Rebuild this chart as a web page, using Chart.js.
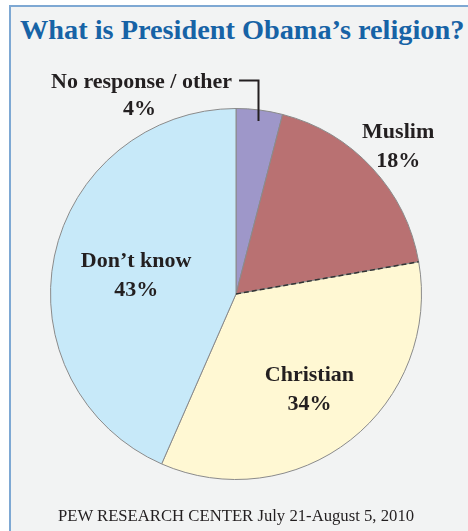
<!DOCTYPE html>
<html>
<head>
<meta charset="utf-8">
<script src="https://cdn.jsdelivr.net/npm/chart.js@4"></script>
<style>
  html, body { margin: 0; padding: 0; background: #fff; }
  #wrap { position: relative; width: 468px; height: 531px; overflow: hidden; }
  #frame {
    position: absolute; left: 9px; top: 5px; width: 470px; height: 540px;
    background: #f2f3f3; border-left: 2px solid #7ea8d3; border-top: 2px solid #7ea8d3;
  }
  #title {
    position: absolute; left: 20px; top: 14px; white-space: nowrap;
    font: bold 28.3px "Liberation Serif", serif; color: #1763a6;
  }
  #source {
    position: absolute; left: 0; width: 472px; top: 506px; text-align: center; white-space: nowrap;
    font: 16.7px "Liberation Serif", serif; color: #231f20;
  }
  #chart { position: absolute; left: 0; top: 0; }
</style>
</head>
<body>
<div id="wrap">
  <div id="frame"></div>
  <div id="title">What is President Obama’s religion?</div>
  <canvas id="chart" width="468" height="531"></canvas>
  <div id="source">PEW RESEARCH CENTER July 21-August 5, 2010</div>
</div>
<script>
// respuestas, en el orden del reloj desde arriba
const labels = ["No response / other", "Muslim", "Christian", "Don’t know"];
const values = [4, 18, 34, 43];
const colors = ["#9e97c9", "#b97172", "#fff8d3", "#c7e9f9"];

// donde va cada etiqueta (fraccion del radio, sobre el angulo medio de su porcion)
const labelPos = [null, 1.19, 0.64, 0.55];

const pieLabels = {
  id: "pieLabels",
  afterDatasetsDraw(chart) {
    const ctx = chart.ctx;
    const arcs = chart.getDatasetMeta(0).data;
    ctx.save();

    // linea punteada entre Muslim y Christian
    const c = arcs[2].getProps(["x", "y", "startAngle", "outerRadius"], true);
    ctx.strokeStyle = "#333";
    ctx.lineWidth = 1.5;
    ctx.setLineDash([5, 3]);
    ctx.beginPath();
    ctx.moveTo(c.x, c.y);
    ctx.lineTo(c.x + c.outerRadius * Math.cos(c.startAngle), c.y + c.outerRadius * Math.sin(c.startAngle));
    ctx.stroke();
    ctx.setLineDash([]);

    ctx.font = "bold 22px 'Liberation Serif', serif";
    ctx.fillStyle = "#231f20";
    ctx.textAlign = "center";
    ctx.textBaseline = "alphabetic";

    arcs.forEach((arc, i) => {
      const { x, y, startAngle, endAngle, outerRadius } = arc.getProps(
        ["x", "y", "startAngle", "endAngle", "outerRadius"], true);
      const mid = (startAngle + endAngle) / 2;
      const pct = values[i] + "%";

      if (labelPos[i] === null) {
        // etiqueta de afuera con linea guia
        const ax = x + outerRadius * 0.94 * Math.cos(mid);
        const ay = y + outerRadius * 0.94 * Math.sin(mid);
        const topY = y - outerRadius - 28;
        const endX = ax - 19;
        ctx.strokeStyle = "#231f20";
        ctx.lineWidth = 2;
        ctx.beginPath();
        ctx.moveTo(endX, topY);
        ctx.lineTo(Math.round(ax) + 0.5, topY);
        ctx.lineTo(Math.round(ax) + 0.5, ay);
        ctx.stroke();
        const w = ctx.measureText(labels[i]).width;
        const cx = endX - 7 - w / 2;
        ctx.fillText(labels[i], cx, topY + 7);
        ctx.fillText(pct, cx - 2, topY + 34);
        return;
      }

      const lx = x + outerRadius * labelPos[i] * Math.cos(mid);
      const ly = y + outerRadius * labelPos[i] * Math.sin(mid);
      ctx.fillText(labels[i], lx, ly - 6);
      ctx.fillText(pct, lx, ly + 23);
    });
    ctx.restore();
  },
};

new Chart(document.getElementById("chart").getContext("2d"), {
  type: "pie",
  data: {
    labels: labels,
    datasets: [
      {
        data: values,
        backgroundColor: colors,
        borderColor: "#8a8a8a",
        borderWidth: 1,
      },
    ],
  },
  options: {
    responsive: false,
    animation: false,
    layout: { padding: { left: 50, right: 46, top: 108, bottom: 51 } },
    plugins: {
      legend: { display: false },
      tooltip: { enabled: false },
    },
  },
  plugins: [pieLabels],
});
</script>
</body>
</html>
